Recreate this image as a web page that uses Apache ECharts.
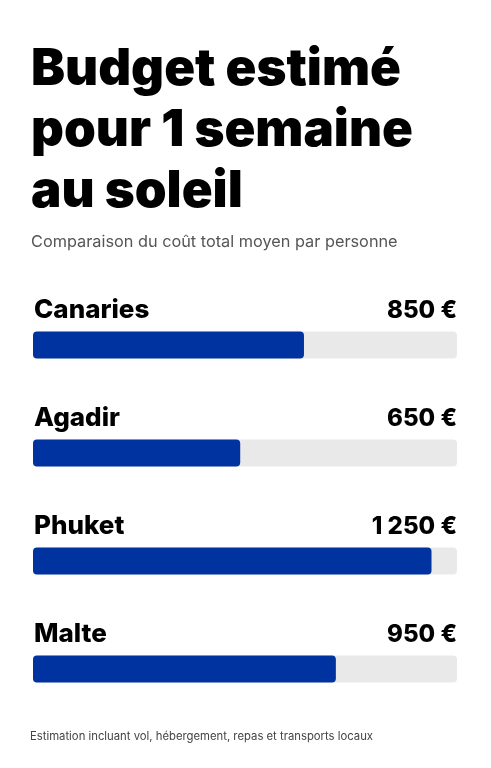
<!DOCTYPE html>
<html>
<head>
<meta charset="utf-8">
<script src="https://cdn.jsdelivr.net/npm/echarts@6/dist/echarts.min.js"></script>
<style>
  html, body { margin: 0; padding: 0; background: #ffffff; }
  #chart { width: 491px; height: 768px; }
</style>
</head>
<body>
<div id="chart"></div>
<script>
// données
const destinations = ['Canaries', 'Agadir', 'Phuket', 'Malte']
const budgets = [850, 650, 1250, 950]
const budgetLabels = ['850 €', '650 €', '1 250 €', '950 €']

const chart = echarts.init(document.getElementById('chart'))

const option = {
  backgroundColor: '#ffffff',
  animation: false,
  title: [
    {
      text: 'Budget estimé\npour 1 semaine\nau soleil',
      left: 31,
      top: 39,
      padding: 0,
      textStyle: {
        fontFamily: 'Inter',
        fontSize: 51,
        fontWeight: 900,
        lineHeight: 61,
        color: '#000000'
      }
    },
    {
      text: 'Comparaison du coût total moyen par personne',
      left: 31,
      top: 234,
      padding: 0,
      textStyle: {
        fontFamily: 'Inter',
        fontSize: 16.3,
        fontWeight: 400,
        color: '#555555'
      }
    },
    {
      text: 'Estimation incluant vol, hébergement, repas et transports locaux',
      left: 30,
      top: 731,
      padding: 0,
      textStyle: {
        fontFamily: 'Inter',
        fontSize: 11.3,
        fontWeight: 400,
        color: '#444444'
      }
    }
  ],
  grid: {
    left: 33,
    right: 34,
    top: 291,
    height: 432
  },
  xAxis: {
    type: 'value',
    min: 0,
    max: 1330,
    show: false
  },
  yAxis: {
    type: 'category',
    data: destinations,
    inverse: true,
    show: false
  },
  series: [
    {
      type: 'bar',
      data: budgets,
      barWidth: 27,
      itemStyle: {
        color: '#0033a0',
        borderRadius: 4
      },
      showBackground: true,
      backgroundStyle: {
        color: '#e9e9e9',
        borderRadius: 4
      },
      label: {
        show: true,
        position: [1, -8],
        align: 'left',
        verticalAlign: 'bottom',
        width: 423,
        formatter: (p) => '{n|' + p.name + '}{v|' + budgetLabels[p.dataIndex] + '}',
        rich: {
          n: {
            fontFamily: 'Inter',
            fontSize: 26,
            fontWeight: 800,
            color: '#000000',
            align: 'left'
          },
          v: {
            fontFamily: 'Inter',
            fontSize: 24,
            fontWeight: 800,
            color: '#000000',
            align: 'right'
          }
        }
      }
    }
  ]
}

chart.setOption(option)
</script>
</body>
</html>
